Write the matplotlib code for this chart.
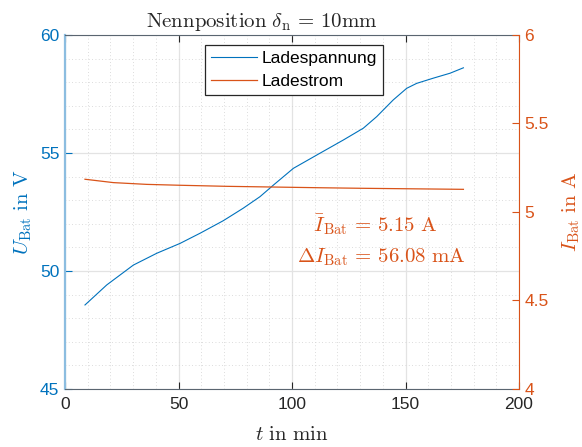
import matplotlib
matplotlib.use("Agg")
import matplotlib.pyplot as plt
from matplotlib.ticker import MultipleLocator

plt.rcParams['font.family'] = ['Liberation Sans', 'DejaVu Sans']
plt.rcParams['mathtext.fontset'] = 'cm'

# Ladespannung (blue, left axis)
t_u = [8.8, 18.4, 30.1, 40.4, 50.7, 59.5, 69.7, 78.5, 85.9, 91.8, 100.6,
       112.3, 122.6, 131.4, 137.3, 144.6, 150.5, 154.9, 162.2, 169.6, 175.5]
u_bat = [48.56, 49.41, 50.25, 50.75, 51.17, 51.60, 52.13, 52.66, 53.15, 53.64,
         54.35, 54.99, 55.55, 56.05, 56.54, 57.25, 57.74, 57.95, 58.17, 58.38,
         58.61]

# Ladestrom (orange, right axis)
t_i = [8.8, 21.3, 36.0, 50.7, 71.2, 91.8, 112.3, 130.0, 175.5]
i_bat = [5.185, 5.166, 5.156, 5.151, 5.145, 5.141, 5.137, 5.134, 5.128]

blue = '#0072BD'
orange = '#D95319'
dark = '#262626'

fig = plt.figure(figsize=(5.82, 4.47), dpi=100)
ax = fig.add_axes([0.1117, 0.1298, 0.7801, 0.7919])
ax2 = ax.twinx()

l1, = ax.plot(t_u, u_bat, color=blue, lw=0.8, label='Ladespannung')
l2, = ax2.plot(t_i, i_bat, color=orange, lw=0.9, label='Ladestrom')

ax.set_xlim(0, 200)
ax.set_ylim(45, 60)
ax2.set_ylim(4, 6)
ax.set_xticks([0, 50, 100, 150, 200])
ax.set_yticks([45, 50, 55, 60])
ax2.set_yticks([4, 4.5, 5, 5.5, 6])
ax2.set_yticklabels(['4', '4.5', '5', '5.5', '6'])
ax.xaxis.set_minor_locator(MultipleLocator(10))
ax.yaxis.set_minor_locator(MultipleLocator(1))

ax.grid(which='major', color='#e3e3e3', lw=0.9, ls='-')
ax.grid(which='minor', color='#d0d0d0', lw=0.6, ls=(0, (1, 3)))
ax.set_axisbelow(True)

ax.tick_params(axis='x', which='major', direction='in', length=5, top=True,
               labelsize=12.5, labelcolor=dark, color=dark, pad=6)
ax.tick_params(axis='x', which='minor', length=0, top=False)
ax.tick_params(axis='y', which='major', direction='in', length=5,
               labelsize=12.5, colors=blue, pad=4)
ax.tick_params(axis='y', which='minor', length=0)
ax2.tick_params(axis='y', direction='in', length=5, labelsize=12.5,
                colors=orange, pad=4)

for s in ['top', 'bottom']:
    ax.spines[s].set_color('#5a6570')
    ax2.spines[s].set_visible(False)
ax.spines['left'].set_color('#8cbde0')
ax.spines['left'].set_linewidth(1.6)
ax.spines['right'].set_visible(False)
ax2.spines['left'].set_visible(False)
ax2.spines['right'].set_color(orange)

ax.set_title(r'$\mathrm{Nennposition}\ \delta_\mathrm{n}\,=\,10\mathrm{mm}$',
             fontsize=15, color=dark, pad=6, x=0.434)
ax.set_xlabel(r'$t\ \mathrm{in\ min}$', fontsize=15, color=dark, labelpad=9)
ax.set_ylabel(r'$U_\mathrm{Bat}\ \mathrm{in\ V}$', fontsize=15, color=blue,
              labelpad=4)
ax2.set_ylabel(r'$I_\mathrm{Bat}\ \mathrm{in\ A}$', fontsize=15, color=orange,
               rotation=90, labelpad=8)

ax2.text(136.5, 4.927, r'$\bar{I}_\mathrm{Bat}\,=\,5.15\ \mathrm{A}$',
         color=orange, fontsize=15, ha='center', va='center')
ax2.text(139.5, 4.746, r'$\Delta I_\mathrm{Bat}\,=\,56.08\ \mathrm{mA}$',
         color=orange, fontsize=15, ha='center', va='center')

leg = ax2.legend([l1, l2], ['Ladespannung', 'Ladestrom'], loc='upper left',
                 bbox_to_anchor=(0.309, 0.972), fontsize=12.5, frameon=True,
                 fancybox=False, edgecolor=dark, framealpha=1,
                 handlelength=2.6, handletextpad=0.3, borderpad=0.35,
                 labelspacing=0.45, borderaxespad=0)
leg.get_frame().set_linewidth(0.9)

fig.savefig('out.png', dpi=100)
